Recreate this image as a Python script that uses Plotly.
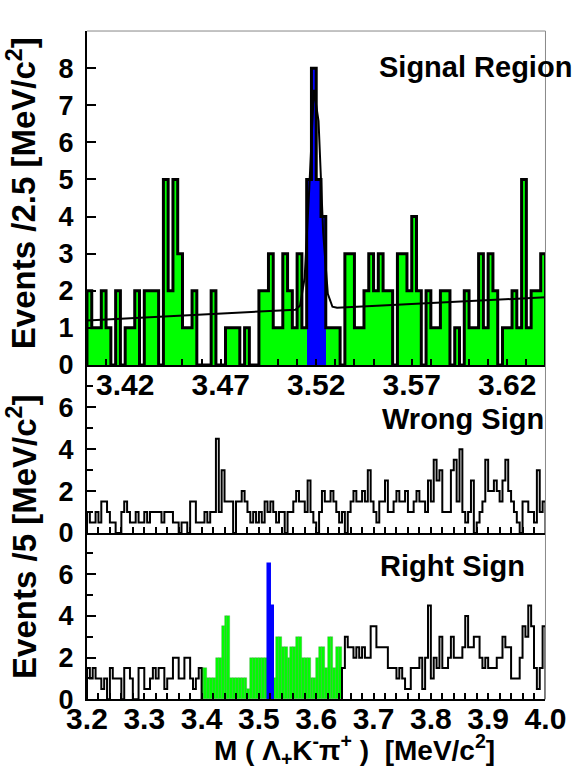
import numpy as np
import plotly.graph_objects as go

# ---------------- data ----------------
# Signal region: M(Lambda_c K- pi+), 2.5 MeV bins from 3.400 to 3.640 GeV
sig_lo, sig_bin = 3.40, 0.0025
sig_counts = [2, 1, 1, 2, 1, 0, 2, 0, 1, 1,
              2, 0, 2, 2, 2, 0, 5, 2, 5, 3,
              1, 1, 2, 0, 0, 0, 2, 0, 0, 1,
              1, 1, 0, 1, 0, 0, 2, 2, 3, 1,
              1, 3, 2, 1, 3, 1, 5, 8, 5, 4,
              1, 1, 1, 0, 3, 3, 1, 1, 2, 3,
              2, 3, 2, 2, 0, 3, 3, 2, 4, 2,
              0, 2, 1, 1, 2, 2, 0, 1, 0, 2,
              1, 1, 3, 1, 3, 2, 0, 1, 1, 2,
              1, 5, 1, 2, 2, 3]
sig_peak_bins = [46, 47, 48, 49]          # bins shaded as signal

# Fit: gaussian peak on a linear background
fit_mean, fit_sigma, fit_amp = 3.5195, 0.0028, 6.1
fit_bg0, fit_bg_slope = 1.20, 2.6          # background at 3.40 GeV, slope per GeV
fit_npx = 100

# Wrong-sign and right-sign samples, 5 MeV bins from 3.2 to 4.0 GeV
wide_lo, wide_bin = 3.20, 0.005
ws_counts = [1, 0.5, 0.5, 1, 0.5, 1.5, 1.5, 1, 0.5, 0.5,
             0, 0, 1, 1.5, 1, 0.5, 0.5, 1, 0.5, 0.5,
             1, 0.5, 1, 1, 1, 1, 0.5, 1, 1, 1,
             0.5, 0.5, 0, 0.5, 0.5, 0, 1.5, 1.5, 0.5, 0.5,
             0.5, 1, 0.5, 1, 1, 4.5, 1, 3, 1.5, 1.5,
             1.5, 0, 1.5, 1.5, 2, 1.5, 1, 0.5, 1, 0.5,
             1, 0.5, 1.5, 1, 1.5, 1, 0.5, 1, 1, 0,
             1, 1, 1.5, 2, 1.5, 1.5, 1, 2.5, 1, 0.5,
             0, 1, 2, 1.5, 1.5, 2, 1.5, 1, 0.5, 1,
             0, 1, 1.5, 2, 1.5, 1.5, 2, 1.5, 3, 1.5,
             1, 0.5, 1.5, 1.5, 2.5, 1, 1, 1.5, 2, 1.5,
             1.5, 2, 1, 1, 1.5, 2, 1.5, 1.5, 1, 2.5,
             1.5, 3.5, 2.5, 3, 1, 1, 1, 3, 3.5, 1.5,
             4, 1, 0.5, 1, 2.5, 0, 0.5, 1, 1.5, 3.5,
             2, 2, 2.5, 2, 1.5, 2.5, 3.5, 2, 1.5, 1,
             0.5, 0, 1.5, 1.5, 1, 1, 0.5, 3, 1, 1.5]
rs_counts = [1.5, 1, 1.5, 1, 1, 0.5, 1, 0, 1.5, 1,
             1, 1, 0, 1.5, 1.5, 1, 0, 0, 1.5, 1.5,
             0.5, 0.5, 1, 1.5, 1, 1.5, 1.5, 0.5, 1, 1,
             2, 2, 1, 1, 2, 2, 1, 0.5, 1, 1.5,
             1.5, 1.5, 1, 1, 1, 2, 2, 3.5, 4, 4,
             1, 1, 1, 1, 1, 1, 0.5, 2, 2, 2,
             2, 2, 2, 6.5, 4.5, 1, 3, 3, 2.5, 2.5,
             2, 2.5, 2.5, 3, 3, 2, 2, 2, 1, 1,
             2, 2.5, 2.5, 1.5, 3, 3, 1.5, 2.5, 2.5, 1.5,
             3, 2.5, 2.5, 2, 2.5, 2, 2.5, 2, 2, 3.5,
             3.5, 2.5, 2.5, 2.5, 2.5, 1.5, 1.5, 1.5, 1, 1.5,
             1, 0.5, 0.5, 1.5, 1.5, 1.5, 2, 0.5, 2, 4.5,
             1, 2, 1.5, 3, 1.5, 1.5, 2, 3, 2, 2,
             2, 2.5, 4, 2.5, 2.5, 3, 3, 2, 1.5, 2,
             1.5, 1.5, 1.5, 2, 2, 3, 2.5, 2.5, 1, 1,
             1, 2, 3.5, 3, 4.5, 3.5, 1.5, 0.5, 1.5, 3.5]
rs_window = (40, 89)       # bins inside the signal-region mass window (green)
rs_peak_bins = [63, 64]    # signal bins (blue)

top_ticks = [3.42, 3.47, 3.52, 3.57, 3.62]
wide_ticks = [3.2, 3.3, 3.4, 3.5, 3.6, 3.7, 3.8, 3.9, 4.0]

# ---------------- helpers ----------------
GREEN, BLUE = "#00ff00", "#0000ff"
FONT = "Liberation Sans, Arial, Helvetica, sans-serif"


def edges(lo, width, n):
    return lo + width * np.arange(n + 1)


def step_outline(lo, width, counts, first=0, last=None):
    """Histogram outline (ROOT style) for bins [first, last)."""
    if last is None:
        last = len(counts)
    e = edges(lo, width, len(counts))
    xs = [e[first]] + list(e[first:last]) + [e[last]]
    ys = [0] + list(counts[first:last]) + [0]
    return xs, ys


def bar_trace(lo, width, counts, idx, color, xa, ya, line=None):
    idx = list(idx)
    centers = [lo + (i + 0.5) * width for i in idx]
    vals = [counts[i] for i in idx]
    return go.Bar(x=centers, y=vals, width=width, xaxis=xa, yaxis=ya,
                  marker=dict(color=color,
                              line=line or dict(width=0)),
                  hoverinfo="skip")


fig = go.Figure()

# ---- top panel: signal region ----
n_sig = len(sig_counts)
green_idx = [i for i in range(n_sig) if i not in sig_peak_bins]
fig.add_trace(bar_trace(sig_lo, sig_bin, sig_counts, green_idx, GREEN, "x", "y"))
fig.add_trace(bar_trace(sig_lo, sig_bin, sig_counts, sig_peak_bins, BLUE, "x", "y"))
sx, sy = step_outline(sig_lo, sig_bin, sig_counts)
fig.add_trace(go.Scatter(x=sx, y=sy, mode="lines", line=dict(color="black", width=3, shape="hv"),
                         xaxis="x", yaxis="y", hoverinfo="skip"))
fx = np.linspace(sig_lo, sig_lo + n_sig * sig_bin, fit_npx)
fy = fit_bg0 + fit_bg_slope * (fx - sig_lo) + fit_amp * np.exp(-0.5 * ((fx - fit_mean) / fit_sigma) ** 2)
fig.add_trace(go.Scatter(x=fx, y=fy, mode="lines", line=dict(color="black", width=2),
                         xaxis="x", yaxis="y", hoverinfo="skip"))

# ---- middle panel: wrong sign ----
wx, wy = step_outline(wide_lo, wide_bin, ws_counts)
fig.add_trace(go.Scatter(x=wx, y=wy, mode="lines", line=dict(color="black", width=2, shape="hv"),
                         xaxis="x2", yaxis="y2", hoverinfo="skip"))

# ---- bottom panel: right sign ----
a, b = rs_window
win_green = [i for i in range(a, b) if i not in rs_peak_bins]
fig.add_trace(bar_trace(wide_lo, wide_bin, rs_counts, win_green, GREEN, "x3", "y3",
                        line=dict(width=0.6, color="rgba(60,140,60,0.55)")))
fig.add_trace(bar_trace(wide_lo, wide_bin, rs_counts, rs_peak_bins, BLUE, "x3", "y3",
                        line=dict(width=2.5, color=BLUE)))
for lo_i, hi_i in [(0, a), (b, len(rs_counts))]:
    rx, ry = step_outline(wide_lo, wide_bin, rs_counts, lo_i, hi_i)
    fig.add_trace(go.Scatter(x=rx, y=ry, mode="lines", line=dict(color="black", width=2, shape="hv"),
                             xaxis="x3", yaxis="y3", hoverinfo="skip"))

# ---------------- layout ----------------
X_DOM = [0.151, 0.947]
D_TOP = [0.5260, 0.9597]
D_MID = [0.3078, 0.5260]
D_BOT = [0.0918, 0.3078]
ytickfont = dict(family=FONT, size=27, color="black", weight="bold")
xtickfont = dict(family=FONT, size=30, color="black", weight="bold")

common_axis = dict(showgrid=False, zeroline=False, showline=True, linecolor="black",
                   linewidth=2, ticks="inside", tickcolor="black", tickwidth=2,
                   automargin=False, fixedrange=True, tickfont=ytickfont)

fig.update_layout(
    width=576, height=770,
    margin=dict(l=0, r=0, t=0, b=0),
    paper_bgcolor="white", plot_bgcolor="white",
    showlegend=False, barmode="overlay", bargap=0,
    xaxis=dict(common_axis, domain=X_DOM, anchor="y",
               range=[sig_lo, sig_lo + n_sig * sig_bin],
               tickvals=top_ticks, ticktext=[f"{v:.2f}" for v in top_ticks],
               tickfont=xtickfont, ticklen=6, ticklabelstandoff=-8,
               minor=dict(ticks="inside", dtick=0.01, tick0=sig_lo, ticklen=6,
                          tickcolor="black", tickwidth=2)),
    yaxis=dict(common_axis, domain=D_TOP, anchor="x", range=[0, 9],
               tickvals=list(range(0, 9)), ticklen=9, ticklabelstandoff=6),
    xaxis2=dict(common_axis, domain=X_DOM, anchor="y2", range=[3.2, 4.0],
                tickvals=wide_ticks, showticklabels=False, ticklen=6,
                minor=dict(ticks="inside", dtick=0.02, tick0=3.2, ticklen=6,
                           tickcolor="black", tickwidth=2)),
    yaxis2=dict(common_axis, domain=D_MID, anchor="x2", range=[0, 8.02],
                tickvals=[0, 2, 4, 6], ticklen=9, ticklabelstandoff=6,
                minor=dict(ticks="inside", dtick=1, tick0=0, ticklen=6,
                           tickcolor="black", tickwidth=2)),
    xaxis3=dict(common_axis, domain=X_DOM, anchor="y3", range=[3.2, 4.0],
                tickvals=wide_ticks, ticktext=[f"{v:.1f}" for v in wide_ticks],
                tickfont=xtickfont, ticklen=6, ticklabelstandoff=-8,
                minor=dict(ticks="inside", dtick=0.02, tick0=3.2, ticklen=6,
                           tickcolor="black", tickwidth=2)),
    yaxis3=dict(common_axis, domain=D_BOT, anchor="x3", range=[0, 7.98],
                tickvals=[0, 2, 4, 6], ticklen=9, ticklabelstandoff=6,
                minor=dict(ticks="inside", dtick=1, tick0=0, ticklen=6,
                           tickcolor="black", tickwidth=2)),
)

# thin frame on the right and top
fig.add_shape(type="line", xref="paper", yref="paper", x0=X_DOM[1], x1=X_DOM[1],
              y0=D_BOT[0], y1=D_TOP[1], line=dict(color="#888888", width=1))
fig.add_shape(type="line", xref="paper", yref="paper", x0=X_DOM[0], x1=X_DOM[1],
              y0=D_TOP[1], y1=D_TOP[1], line=dict(color="#888888", width=1))

label_font = dict(family=FONT, size=29, color="black", weight="bold")
for text, x, y in [("Signal Region", 0.655, 0.913),
                   ("Wrong Sign", 0.659, 0.456),
                   ("Right Sign", 0.657, 0.265)]:
    fig.add_annotation(text=text, x=x, y=y, xref="paper", yref="paper",
                       xanchor="left", yanchor="middle", showarrow=False, font=label_font)

title_font = dict(family=FONT, size=33, color="black", weight="bold")
fig.add_annotation(text="Events /2.5 [MeV/c<sup>2</sup>]", x=0.038, y=0.749,
                   xref="paper", yref="paper", textangle=-90, showarrow=False,
                   xanchor="center", yanchor="middle", font=title_font)
fig.add_annotation(text="Events /5 [MeV/c<sup>2</sup>]", x=0.038, y=0.3026,
                   xref="paper", yref="paper", textangle=-90, showarrow=False,
                   xanchor="center", yanchor="middle", font=title_font)
fig.add_annotation(text="M ( Λ<sub>+</sub>K<sup>-</sup>π<sup>+</sup> )  [MeV/c<sup>2</sup>]",
                   x=0.616, y=0.026, xref="paper", yref="paper", showarrow=False,
                   xanchor="center", yanchor="middle",
                   font=dict(family=FONT, size=28, color="black", weight="bold"))

fig.write_html("out.html")
